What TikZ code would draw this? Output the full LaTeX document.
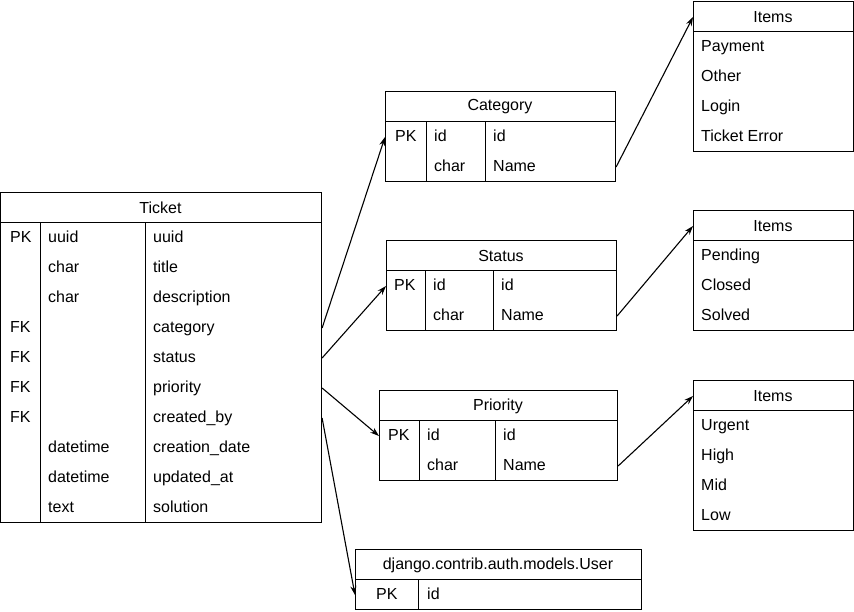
\documentclass[tikz,border=0pt]{standalone}
\usepackage{fontspec}
\setmainfont{Liberation Sans}
\usetikzlibrary{arrows.meta}
\begin{document}
\begin{tikzpicture}[x=1pt,y=-1pt,
  box/.style={draw=black,line width=1.1pt,fill=white,anchor=north west,inner sep=0pt},
  sep/.style={draw=black,line width=1pt},
  hdr/.style={font=\fontsize{16}{19}\selectfont,inner sep=0pt,anchor=center,yshift=-1pt},
  cell/.style={font=\fontsize{16}{19}\selectfont,inner sep=0pt,anchor=west,text height=11.5pt,text depth=3.5pt,yshift=-1pt},
  conn/.style={draw=black,line width=1.1pt,-{Stealth[length=9pt,width=6pt]}}]
\useasboundingbox (0,0) rectangle (854,611);

% ---------------- Ticket ----------------
\node[box,minimum width=321pt,minimum height=330pt] (ticket) at (0,192) {};
\draw[sep] (0,222) -- (321,222);
\draw[sep] (40,222) -- (40,522);
\draw[sep] (145,222) -- (145,522);
\node[hdr] (ticket-h) at (160.5,207) {Ticket};
\foreach \i/\k/\t/\n in {1/PK/uuid/uuid,2//char/title,3//char/description,4/FK//category,5/FK//status,6/FK//priority,7/FK//created\_by,8//datetime/creation\_date,9//datetime/updated\_at,10//text/solution}{
  \node[cell] (tk-\i) at (10,207+30*\i) {\k};
  \node[cell] (tt-\i) at (48,207+30*\i) {\t};
  \node[cell] (tn-\i) at (153,207+30*\i) {\n};
}

% ---------------- Category ----------------
\node[box,minimum width=230pt,minimum height=90pt] (cat) at (385,91) {};
\draw[sep] (385,121) -- (615,121);
\draw[sep] (426,121) -- (426,181);
\draw[sep] (485,121) -- (485,181);
\node[hdr] (cat-h) at (500,106) {Category};
\node[cell] (cat-k1) at (395,136) {PK};
\node[cell] (cat-t1) at (434,136) {id};
\node[cell] (cat-n1) at (493,136) {id};
\node[cell] (cat-t2) at (434,166) {char};
\node[cell] (cat-n2) at (493,166) {Name};

% ---------------- Status ----------------
\node[box,minimum width=230pt,minimum height=90pt] (st) at (386,240) {};
\draw[sep] (386,270) -- (616,270);
\draw[sep] (425,270) -- (425,330);
\draw[sep] (493,270) -- (493,330);
\node[hdr] (st-h) at (501,255) {Status};
\node[cell] (st-k1) at (394,285) {PK};
\node[cell] (st-t1) at (433,285) {id};
\node[cell] (st-n1) at (501,285) {id};
\node[cell] (st-t2) at (433,315) {char};
\node[cell] (st-n2) at (501,315) {Name};

% ---------------- Priority ----------------
\node[box,minimum width=238pt,minimum height=90pt] (pr) at (379,390) {};
\draw[sep] (379,420) -- (617,420);
\draw[sep] (419,420) -- (419,480);
\draw[sep] (495,420) -- (495,480);
\node[hdr] (pr-h) at (498,405) {Priority};
\node[cell] (pr-k1) at (388,435) {PK};
\node[cell] (pr-t1) at (427,435) {id};
\node[cell] (pr-n1) at (503,435) {id};
\node[cell] (pr-t2) at (427,465) {char};
\node[cell] (pr-n2) at (503,465) {Name};

% ---------------- User ----------------
\node[box,minimum width=286pt,minimum height=60pt] (us) at (355,549) {};
\draw[sep] (355,579) -- (641,579);
\draw[sep] (418,579) -- (418,609);
\node[hdr] (us-h) at (498,564) {django.contrib.auth.models.User};
\node[cell] (us-k1) at (376,594) {PK};
\node[cell] (us-t1) at (427,594) {id};

% ---------------- Items (category) ----------------
\node[box,minimum width=160pt,minimum height=150pt] (it1) at (693,1) {};
\draw[sep] (693,31) -- (853,31);
\node[hdr] (it1-h) at (773,16) {Items};
\foreach \i/\n in {1/Payment,2/Other,3/Login,4/Ticket Error}{
  \node[cell] (it1-\i) at (701,16+30*\i) {\n};
}

% ---------------- Items (status) ----------------
\node[box,minimum width=160pt,minimum height=120pt] (it2) at (693,210) {};
\draw[sep] (693,240) -- (853,240);
\node[hdr] (it2-h) at (773,225) {Items};
\foreach \i/\n in {1/Pending,2/Closed,3/Solved}{
  \node[cell] (it2-\i) at (701,225+30*\i) {\n};
}

% ---------------- Items (priority) ----------------
\node[box,minimum width=160pt,minimum height=150pt] (it3) at (693,380) {};
\draw[sep] (693,410) -- (853,410);
\node[hdr] (it3-h) at (773,395) {Items};
\foreach \i/\n in {1/Urgent,2/High,3/Mid,4/Low}{
  \node[cell] (it3-\i) at (701,395+30*\i) {\n};
}

% ---------------- Connectors ----------------
\draw[conn] (ticket.east |- tk-4) -- (cat.west |- cat-k1);
\draw[conn] (ticket.east |- tk-5) -- (st.west |- st-k1);
\draw[conn] (ticket.east |- tk-6) -- (pr.west |- pr-k1);
\draw[conn] (ticket.east |- tk-7) -- (us.west |- us-k1);
\draw[conn] (cat.east |- cat-n2) -- (it1.west |- it1-h);
\draw[conn] (st.east |- st-n2) -- (it2.west |- it2-h);
\draw[conn] (pr.east |- pr-n2) -- (it3.west |- it3-h);
\end{tikzpicture}
\end{document}
